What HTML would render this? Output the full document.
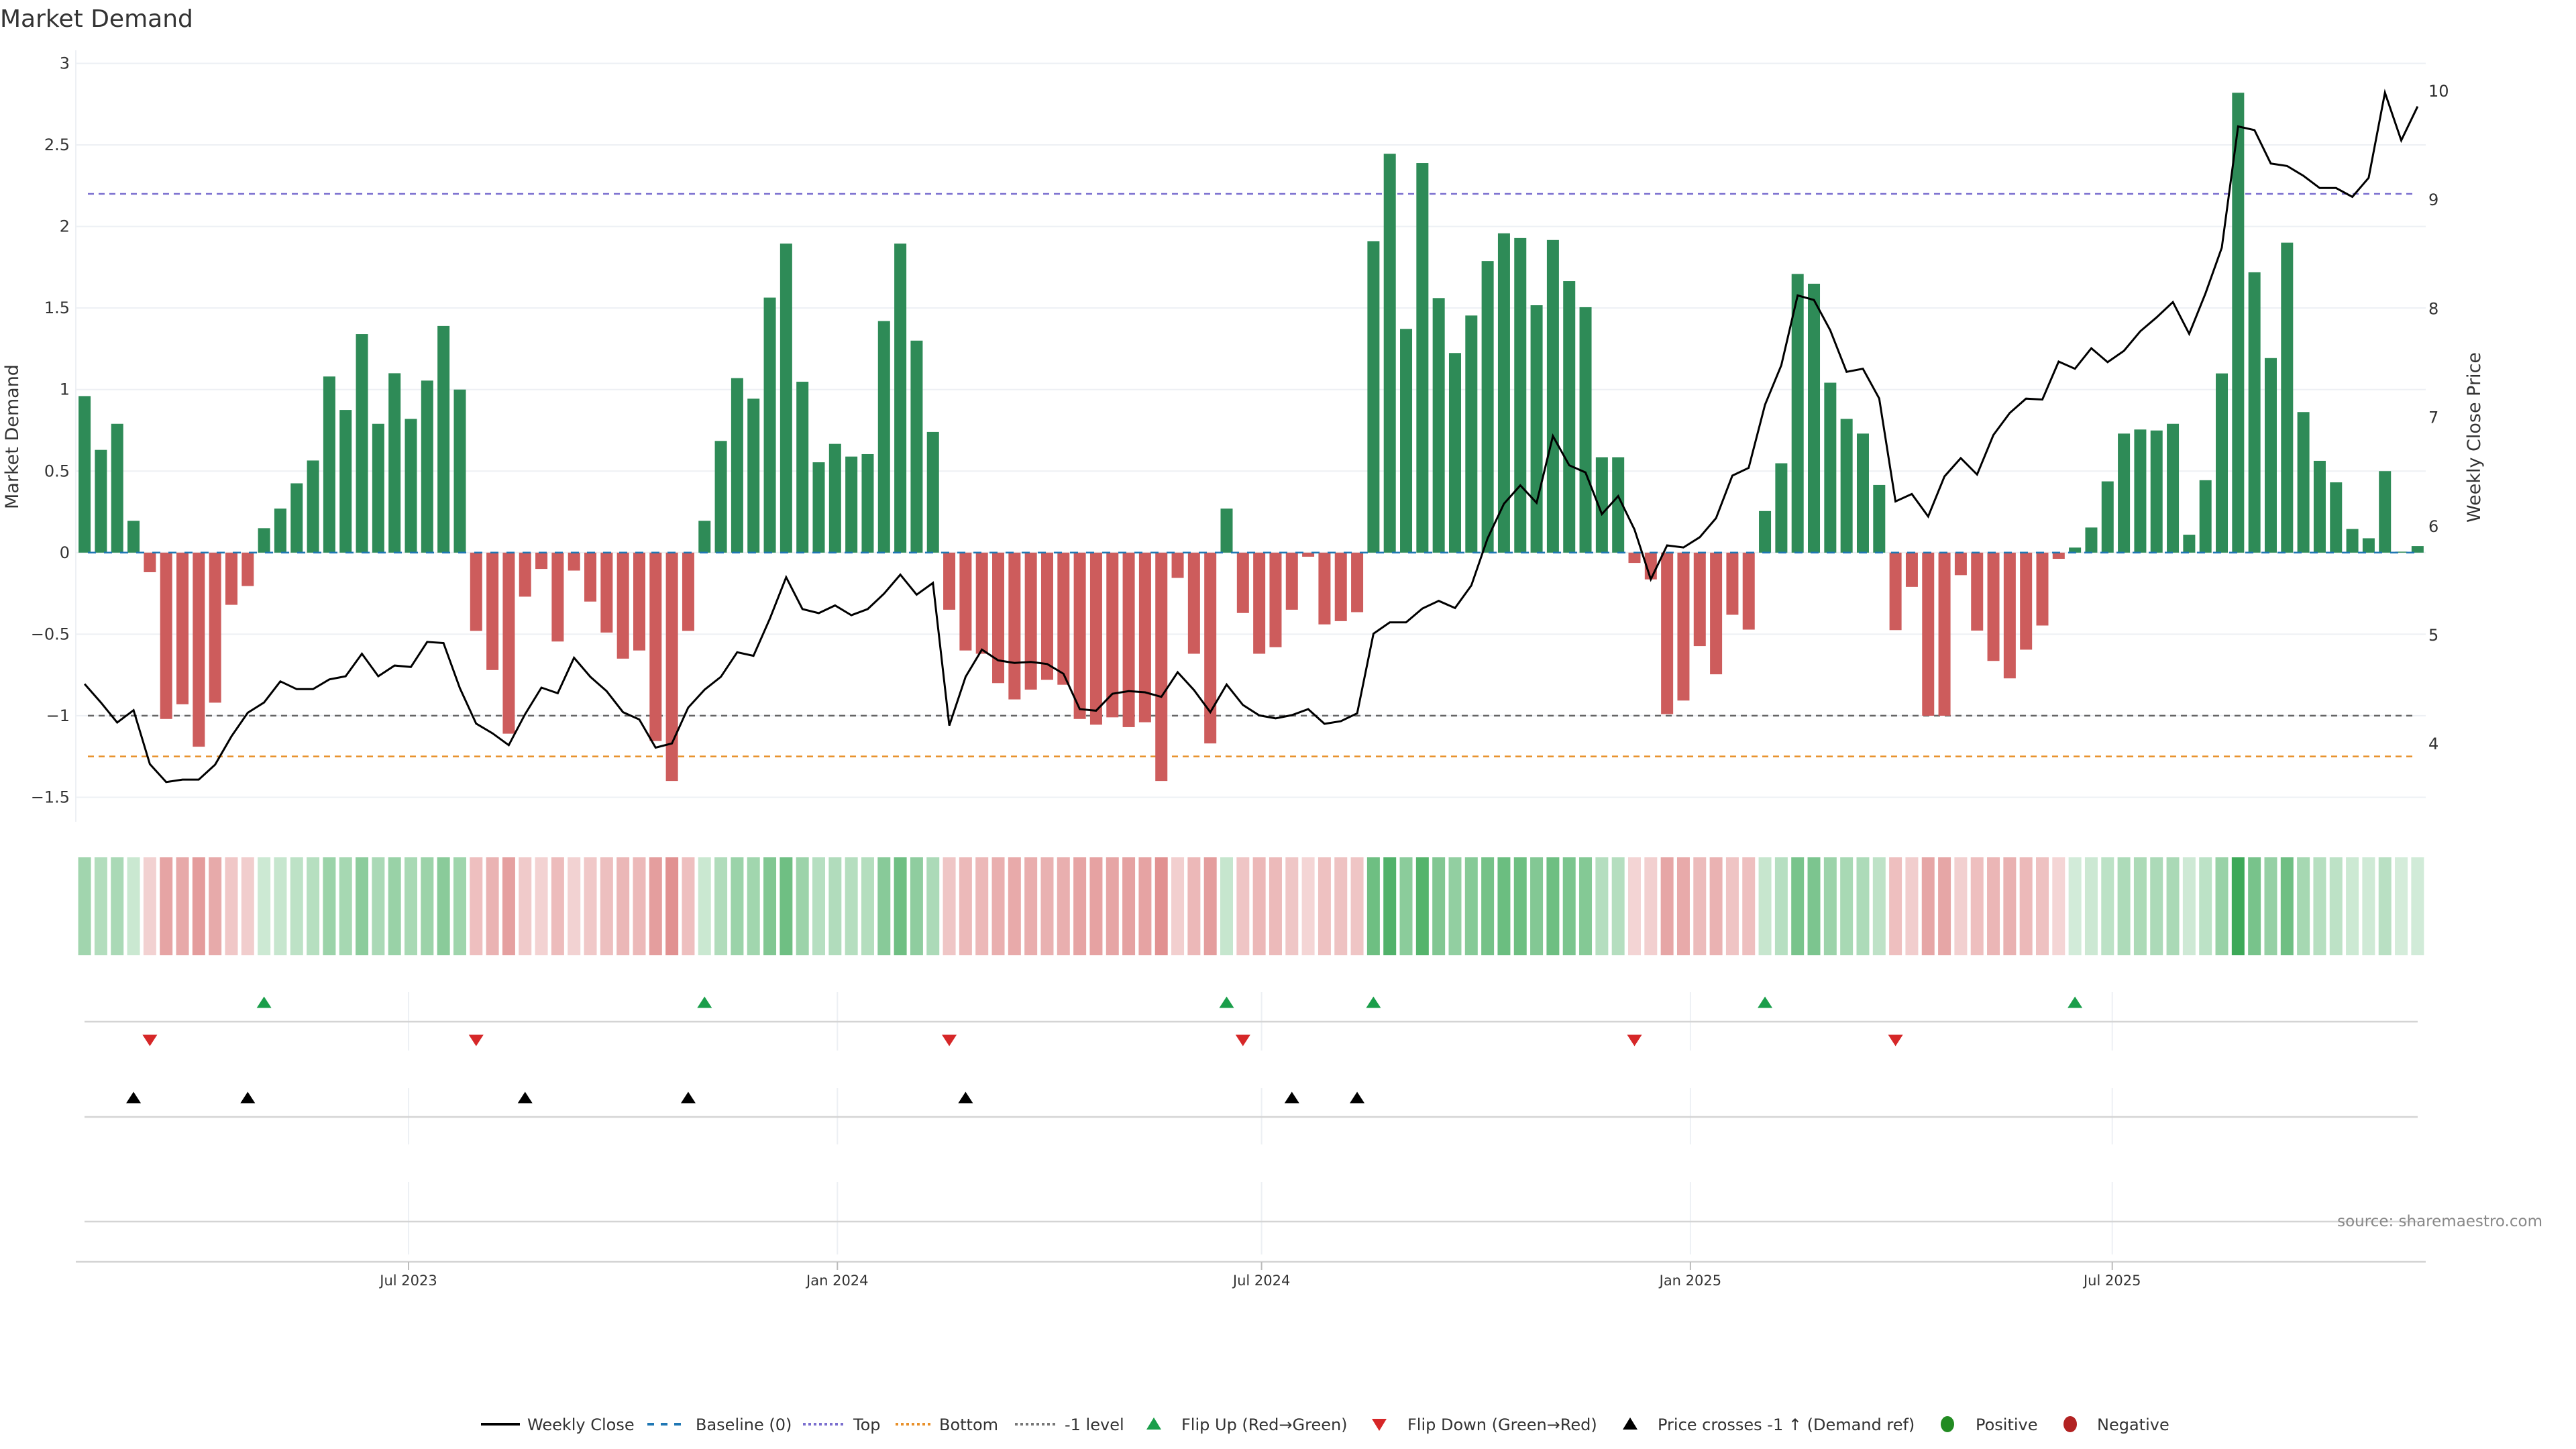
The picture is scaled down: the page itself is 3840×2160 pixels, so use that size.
<!DOCTYPE html>
<html><head><meta charset="utf-8"><title>Market Demand</title>
<style>
html,body{margin:0;padding:0;background:#fff;}
svg{display:block;font-family:"DejaVu Sans","Liberation Sans",sans-serif;}
</style></head>
<body>
<svg id="chart" width="3840" height="2160" viewBox="0 0 3840 2160" xmlns="http://www.w3.org/2000/svg">
<rect width="3840" height="2160" fill="#fff"/>
<text x="0" y="40" font-size="36" fill="#333">Market Demand</text>
<g id="grid"></g><g id="refs"></g><g id="bars"></g><g id="line"></g><g id="axes"></g>
<g id="heat"></g><g id="markers"></g><g id="xaxis"></g>
<text transform="translate(27,651) rotate(-90)" text-anchor="middle" font-size="27" fill="#333">Market Demand</text>
<text transform="translate(3697,652) rotate(-90)" text-anchor="middle" font-size="27" fill="#333">Weekly Close Price</text>
<text x="3790" y="1828" text-anchor="end" font-size="23" fill="#888">source: sharemaestro.com</text>
<g id="legend"></g>
</svg>
<script>
const demand = [0.96,0.63,0.79,0.195,-0.12,-1.02,-0.93,-1.19,-0.92,-0.32,-0.205,
0.15,0.27,0.425,0.565,1.08,0.875,1.34,0.79,1.10,0.82,1.055,1.39,1.0,
-0.48,-0.72,-1.11,-0.27,-0.1,-0.545,-0.11,-0.30,-0.49,-0.65,-0.60,-1.155,-1.40,-0.48,
0.195,0.685,1.07,0.944,1.564,1.895,1.048,0.554,0.667,0.589,0.604,1.42,1.895,1.30,0.74,
-0.35,-0.60,-0.62,-0.80,-0.90,-0.84,-0.78,-0.81,-1.02,-1.055,-1.01,-1.07,-1.04,-1.40,-0.155,-0.62,-1.17,
0.27,
-0.37,-0.62,-0.58,-0.35,-0.025,-0.44,-0.42,-0.365,
1.91,2.446,1.372,2.389,1.561,1.224,1.454,1.788,1.958,1.929,1.517,1.917,1.665,1.505,0.585,0.585,
-0.063,-0.164,-0.99,-0.907,-0.573,-0.746,-0.381,-0.472,
0.255,0.548,1.709,1.649,1.042,0.82,0.73,0.415,
-0.475,-0.21,-1.0,-1.0,-0.138,-0.478,-0.664,-0.771,-0.595,-0.447,-0.038,
0.031,0.154,0.437,0.73,0.755,0.749,0.79,0.11,0.444,1.099,2.82,1.719,1.193,1.901,0.862,0.563,0.431,0.145,0.088,0.50,0.006,0.04];
const price = [4.546,4.376,4.192,4.305,3.81,3.645,3.668,3.668,3.805,4.065,4.282,4.376,4.57,4.499,4.499,4.588,4.617,4.824,4.617,4.716,4.702,4.933,4.923,4.508,4.182,4.093,3.984,4.268,4.513,4.461,4.787,4.612,4.48,4.287,4.22,3.961,4.0,4.329,4.494,4.612,4.838,
4.805,5.145,5.527,5.235,5.197,5.268,5.178,5.235,5.376,5.551,5.367,5.475,4.164,4.612,4.862,4.763,4.74,4.749,4.73,4.64,4.315,4.301,4.456,4.48,4.47,4.428,4.654,4.49,4.287,4.541,4.353,4.258,4.23,4.26,4.315,4.18,4.204,
4.277,5.008,5.112,5.112,5.24,5.31,5.244,5.452,5.886,6.202,6.372,6.211,6.825,6.556,6.49,6.107,6.273,5.966,5.508,5.82,5.801,5.895,6.07,6.461,6.532,7.113,7.476,8.117,8.075,7.797,7.415,7.443,7.17,6.224,6.292,6.086,6.454,
6.622,6.471,6.834,7.037,7.169,7.16,7.509,7.443,7.632,7.504,7.608,7.787,7.915,8.056,7.764,8.136,8.556,9.67,9.637,9.33,9.307,9.217,9.104,9.104,9.023,9.198,9.981,9.542,9.854];
const flipUp = [11,38,70,79,103,122];
const flipDown = [4,24,53,71,95,111];
const priceCross = [3,10,27,37,54,74,78];
const leftTicks = [-1.5,-1,-0.5,0,0.5,1,1.5,2,2.5,3];
const rightTicks = [4,5,6,7,8,9,10];
const xTickLabels = ["Jul 2023","Jan 2024","Jul 2024","Jan 2025","Jul 2025"];
const xTickDates = ["2023-07-01","2024-01-01","2024-07-01","2025-01-01","2025-07-01"];
const levelTop = 2.2, levelBottom = -1.25, levelMinus1 = -1;

const NS="http://www.w3.org/2000/svg";
const START = Date.UTC(2023,1,12), WEEK=7*86400000;
const X0=126.1, DX=24.32;
function xi(i){return X0+DX*i;}
function xd(s){return X0+(Date.parse(s+"T00:00:00Z")-START)/WEEK*DX;}
function yL(v){return 823.8-v*243.1;}
function yR(p){return 135+(10-p)*162.2;}
function mk(tag,attrs,parent,text){const e=document.createElementNS(NS,tag);for(const k in attrs)e.setAttribute(k,attrs[k]);if(text!==undefined)e.textContent=text;parent.appendChild(e);return e;}
const G=id=>document.getElementById(id);
const PL=113, PR=3616;

// grid
leftTicks.forEach(t=>{
  const l=mk('line',{x1:PL,x2:PR,y1:yL(t),y2:yL(t),stroke:'#edf0f4','stroke-width':2},G('grid'));
  
  
  const tx=mk('text',{x:104,y:yL(t)+8,'text-anchor':'end','font-size':24,fill:'#333'},G('axes'),String(t).replace('-','−'));
  
  
});
mk('line',{x1:PL,x2:PL,y1:75,y2:1225,stroke:'#edf0f4','stroke-width':2},G('grid'));
rightTicks.forEach(t=>{
  const tx=mk('text',{x:3620,y:yR(t)+9,'font-size':24,fill:'#333'},G('axes'),String(t));
  
  
});

// reference lines
function ref(v,color,name){
  const l=mk('line',{x1:131,x2:3600,y1:yL(v),y2:yL(v),stroke:color,'stroke-width':2.5,'stroke-dasharray':'9,7'},G('refs'));
  
  
}
ref(levelTop,'#7b6fcf','top-level-line');
ref(levelBottom,'#e8902a','bottom-level-line');
ref(levelMinus1,'#666','minus1-level-line');

// bars
const BW=18;
demand.forEach((v,i)=>{
  const y0=yL(0),y1=yL(v);
  const r=mk('rect',{x:xi(i)-BW/2,y:Math.min(y0,y1),width:BW,height:Math.max(1,Math.abs(y1-y0)),fill:v>=0?'#2e8b57':'#cd5c5c'},G('bars'));
  
  
});
const base=mk('line',{x1:131,x2:3604,y1:yL(0),y2:yL(0),stroke:'#1f77b4','stroke-width':2.5,'stroke-dasharray':'12,12'},G('refs'));


G('bars').after(base);

// price line
const pl=mk('polyline',{points:price.map((p,i)=>xi(i).toFixed(1)+','+yR(p).toFixed(1)).join(' '),fill:'none',stroke:'#000','stroke-width':3,'stroke-linejoin':'miter'},G('line'));



// heatmap
const maxAbs=Math.max(...demand.map(Math.abs));
demand.forEach((v,i)=>{
  const a=0.2+0.7*Math.abs(v)/maxAbs;
  const c=v>=0?`rgba(40,160,70,${a.toFixed(3)})`:`rgba(200,55,55,${a.toFixed(3)})`;
  const r=mk('rect',{x:xi(i)-9.5,y:1278,width:19,height:146,fill:c},G('heat'));
  
  
});

// lower panels gridlines
xTickDates.forEach(d=>{
  const x=xd(d);
  [[1479,1566],[1622,1706],[1762,1870]].forEach(([a,b])=>{
    const l=mk('line',{x1:x,x2:x,y1:a,y2:b,stroke:'#edf0f4','stroke-width':2},G('markers'));
    
    
  });
});
[1523,1665,1821].forEach(y=>{
  const l=mk('line',{x1:126,x2:3604,y1:y,y2:y,stroke:'#d4d4d4','stroke-width':2.5},G('markers'));
  
  
});
function tri(x,y,up,color,name){
  const h=17,w=22;
  const pts=up?`${x-w/2},${y+h/2} ${x+w/2},${y+h/2} ${x},${y-h/2}`:`${x-w/2},${y-h/2} ${x+w/2},${y-h/2} ${x},${y+h/2}`;
  const p=mk('polygon',{points:pts,fill:color},G('markers'));
  
  
}
flipUp.forEach(i=>tri(xi(i),1494,true,'#1a9e4a','flip-up-marker'));
flipDown.forEach(i=>tri(xi(i),1551,false,'#d62728','flip-down-marker'));
priceCross.forEach(i=>tri(xi(i),1636,true,'#000','price-cross-marker'));

// x axis
mk('line',{x1:PL,x2:PR,y1:1881,y2:1881,stroke:'#d4d4d4','stroke-width':2.5},G('xaxis'));
xTickLabels.forEach((lab,k)=>{
  const x=xd(xTickDates[k]);
  mk('line',{x1:x,x2:x,y1:1881,y2:1893,stroke:'#bbb','stroke-width':2},G('xaxis'));
  const t=mk('text',{x:x,y:1916,'text-anchor':'middle','font-size':21,fill:'#333'},G('xaxis'),lab);
  
  
});

// legend
const LG=G('legend'), LY=2123;
function ltext(x,s,name){const t=mk('text',{x:x,y:LY+9,'font-size':24,fill:'#333'},LG,s);}
mk('line',{x1:717,x2:775,y1:LY,y2:LY,stroke:'#000','stroke-width':4},LG); ltext(786,'Weekly Close','legend-weekly-close');
mk('line',{x1:965,x2:1025,y1:LY,y2:LY,stroke:'#1f77b4','stroke-width':4,'stroke-dasharray':'10,10'},LG); ltext(1037,'Baseline (0)','legend-baseline');
mk('line',{x1:1197,x2:1260,y1:LY,y2:LY,stroke:'#7b6fcf','stroke-width':4,'stroke-dasharray':'4,4'},LG); ltext(1272,'Top','legend-top');
mk('line',{x1:1335,x2:1390,y1:LY,y2:LY,stroke:'#e8902a','stroke-width':4,'stroke-dasharray':'4,4'},LG); ltext(1400,'Bottom','legend-bottom');
mk('line',{x1:1513,x2:1575,y1:LY,y2:LY,stroke:'#777','stroke-width':4,'stroke-dasharray':'4,4'},LG); ltext(1587,'-1 level','legend-minus1-level');
mk('polygon',{points:'1709,2131 1731,2131 1720,2113',fill:'#1a9e4a'},LG); ltext(1761,'Flip Up (Red→Green)','legend-flip-up');
mk('polygon',{points:'2045,2115 2067,2115 2056,2133',fill:'#d62728'},LG); ltext(2098,'Flip Down (Green→Red)','legend-flip-down');
mk('polygon',{points:'2419,2131 2441,2131 2430,2113',fill:'#000'},LG); ltext(2471,'Price crosses -1 ↑ (Demand ref)','legend-price-cross');
mk('ellipse',{cx:2903,cy:LY,rx:10,ry:12,fill:'#228b22'},LG); ltext(2945,'Positive','legend-positive');
mk('ellipse',{cx:3086,cy:LY,rx:10,ry:12,fill:'#b22222'},LG); ltext(3126,'Negative','legend-negative');
</script>
</body></html>
